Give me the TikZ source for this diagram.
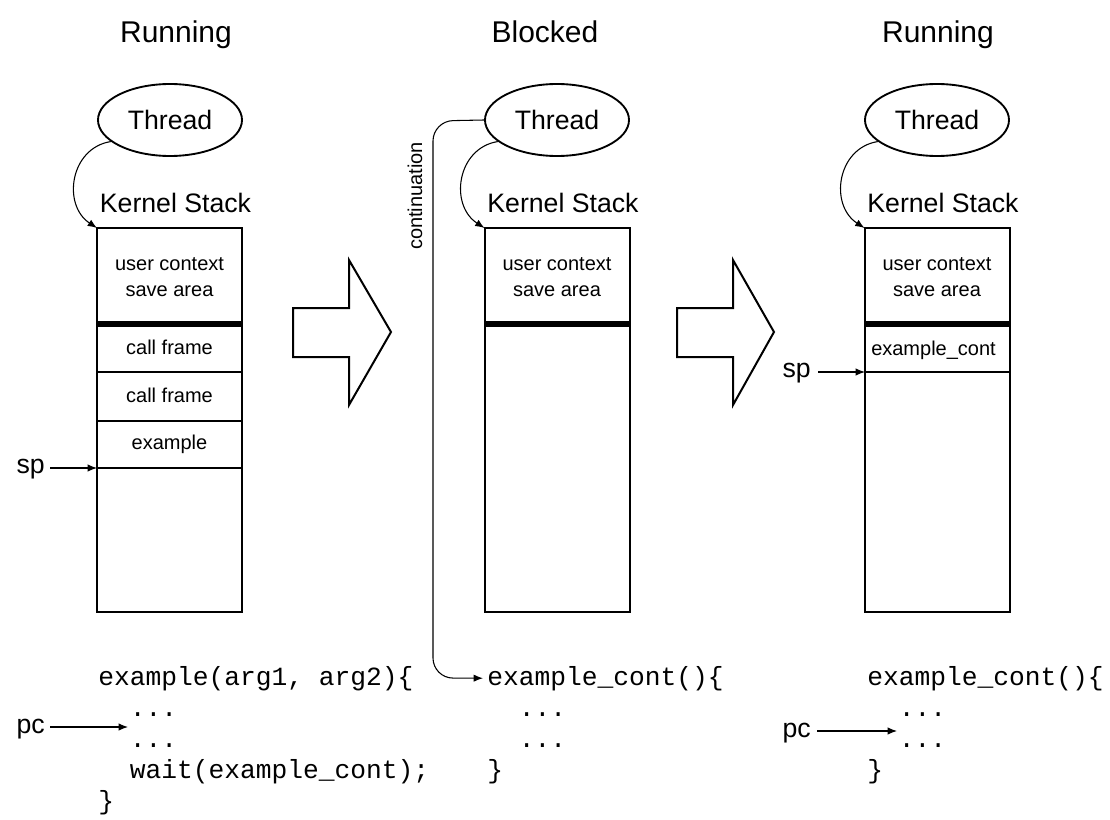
\documentclass[tikz,border=0pt]{standalone}
\usepackage{fontspec}
\setmainfont{Liberation Sans}
\newfontfamily\codefont{Liberation Mono}
\usetikzlibrary{arrows.meta,shapes.geometric}

\tikzset{
  title/.style={font=\fontsize{22.5}{27}\selectfont, anchor=base, inner sep=0pt},
  thread/.style={draw, ellipse, line width=1.4pt, minimum width=108pt, minimum height=54pt,
                 inner sep=0pt, font=\fontsize{20}{24}\selectfont},
  stacklabel/.style={font=\fontsize{20}{24}\selectfont, anchor=base, inner sep=0pt},
  stackbox/.style={draw, line width=1.5pt, rectangle, minimum width=108.75pt,
                   minimum height=288pt, inner sep=0pt, outer sep=0pt},
  cell/.style={font=\fontsize{15}{18}\selectfont, anchor=base, inner sep=0pt},
  divider/.style={line width=1.5pt},
  thickdivider/.style={line width=4pt},
  code/.style={font=\codefont\fontsize{19.7}{24}\selectfont, anchor=base west, inner sep=0pt},
  reg/.style={font=\fontsize{20}{24}\selectfont, anchor=base east, inner sep=0pt},
  link/.style={line width=0.8pt, -{Latex[length=7pt,width=5.5pt]}},
  bigarrow/.style={draw, line width=1.5pt, line join=miter}
}

\begin{document}
\begin{tikzpicture}[x=0.75pt,y=-0.75pt]
\useasboundingbox (0,0) rectangle (1110,820);

% state titles
\node[title] (t1) at (176,43) {Running};
\node[title] (t2) at (545,43) {Blocked};
\node[title] (t3) at (938,43) {Running};

% threads
\node[thread] (th1) at (170,120) {Thread};
\node[thread] (th2) at (557,120) {Thread};
\node[thread] (th3) at (937,120) {Thread};

% kernel stack labels
\node[stacklabel] (kl1) at (175.5,213) {Kernel Stack};
\node[stacklabel] (kl2) at (563,213) {Kernel Stack};
\node[stacklabel] (kl3) at (943,213) {Kernel Stack};

% kernel stacks
\node[stackbox] (ks1) at (169.5,420) {};
\node[stackbox] (ks2) at (557,420) {};
\node[stackbox] (ks3) at (937,420) {};

% stack 1: running, full call chain
\draw[thickdivider] (97,324) -- (242,324);
\draw[divider] (97,372) -- (242,372);
\draw[divider] (97,421) -- (242,421);
\draw[divider] (97,468) -- (242,468);
\node[cell] (u1a) at (169.5,270) {user context};
\node[cell] (u1b) at (169.5,296) {save area};
\node[cell] (cf1) at (169.5,354) {call frame};
\node[cell] (cf2) at (169.5,402) {call frame};
\node[cell] (ex1) at (169.5,449) {example};

% stack 2: blocked, stack discarded
\draw[thickdivider] (485,324) -- (629,324);
\node[cell] (u2a) at (557,270) {user context};
\node[cell] (u2b) at (557,296) {save area};

% stack 3: resumed in the continuation
\draw[thickdivider] (865,324) -- (1009,324);
\draw[divider] (865,372) -- (1009,372);
\node[cell] (u3a) at (937,270) {user context};
\node[cell] (u3b) at (937,296) {save area};
\node[cell] (ec3) at (933.5,355) {example\_cont};

% thread -> stack links
\draw[link] (th1.200) .. controls (70,148) and (62,205) .. (ks1.north west);
\draw[link] (th2.200) .. controls (457,148) and (449,205) .. (ks2.north west);
\draw[link] (th3.200) .. controls (837,148) and (829,205) .. (ks3.north west);

% stack pointers
\coordinate (sp1) at (97,468);
\coordinate (sp3) at (865,372);
\node[reg] (sp1l) at (45,473) {sp};
\node[reg] (sp3l) at (811,377) {sp};
\draw[link] (50,468) -- (sp1);
\draw[link] (818,372) -- (sp3);

% transition arrows
\draw[bigarrow] (293,308) -- (349,308) -- (349,260) -- (391,332) -- (349,405)
  -- (349,357) -- (293,357) -- cycle;
\draw[bigarrow] (677,308) -- (733,308) -- (733,260) -- (774,332) -- (733,405)
  -- (733,357) -- (677,357) -- cycle;

% code: running
\node[code] (c1a) at (98,685) {example(arg1, arg2)\{};
\node[code] (c1b) at (129.5,716) {...};
\node[code] (c1c) at (129.5,747) {...};
\node[code] (c1d) at (129.5,778) {wait(example\_cont);};
\node[code] (c1e) at (98,809) {\}};

% code: blocked
\node[code] (c2a) at (487,685) {example\_cont()\{};
\node[code] (c2b) at (518.5,716) {...};
\node[code] (c2c) at (518.5,747) {...};
\node[code] (c2d) at (487,778) {\}};

% code: resumed
\node[code] (c3a) at (867,685) {example\_cont()\{};
\node[code] (c3b) at (898.5,716) {...};
\node[code] (c3c) at (898.5,747) {...};
\node[code] (c3d) at (867,778) {\}};

% program counters
\node[reg] (pc1l) at (45,733) {pc};
\node[reg] (pc3l) at (811,737) {pc};
\coordinate (pc1) at (128,727);
\coordinate (pc3) at (897,731);
\draw[link] (50,727) -- (pc1);
\draw[link] (817,731) -- (pc3);

% continuation pointer
\draw[link, rounded corners=15pt] (th2.west) -- (433,121) -- (433,678)
  -- ([xshift=-3pt]c2a.west);
\node[font=\fontsize{15}{18}\selectfont, rotate=90, inner sep=0pt] (cont) at (415,196) {continuation};

\end{tikzpicture}
\end{document}
